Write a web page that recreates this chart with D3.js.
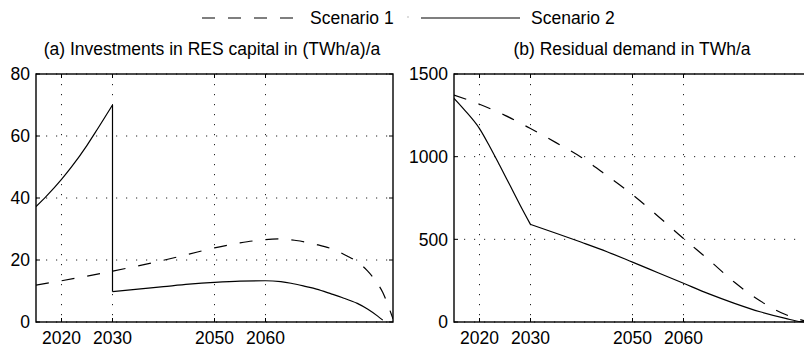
<!DOCTYPE html>
<html>
<head>
<meta charset="utf-8">
<script src="https://cdn.jsdelivr.net/npm/d3@7"></script>
<style>
  body { margin: 0; background: #fff; }
  svg { display: block; }
  text { font-family: "Liberation Sans", Arial, sans-serif; fill: #000; }
</style>
</head>
<body>
<svg id="chart" width="804" height="350"></svg>
<script>
// ---- data ----
const seriesNames = ["Scenario 1", "Scenario 2"];
const titles = ["(a) Investments in RES capital in (TWh/a)/a", "(b) Residual demand in TWh/a"];
const xTicks = [2020, 2030, 2050, 2060];
const yTicksA = [0, 20, 40, 60, 80];
const yTicksB = [0, 500, 1000, 1500];

// (a) investments, scenario 1 (dashed)
const invS1Years  = [2015, 2020, 2025, 2030, 2035, 2040, 2045, 2050, 2055, 2060, 2063, 2066, 2070, 2073, 2076, 2078, 2080, 2082, 2083, 2084, 2085];
const invS1Values = [11.9, 13.3, 14.8, 16.4, 18.1, 19.9, 21.9, 23.9, 25.5, 26.6, 26.8, 26.3, 25.0, 23.6, 21.3, 19.4, 16.5, 12.3, 9.5, 5.5, 1.0];
// (a) investments, scenario 2 (solid)
const invS2Years  = [2015, 2017, 2020, 2022, 2025, 2027, 2030, 2030, 2035, 2040, 2045, 2050, 2055, 2060, 2063, 2065, 2068, 2070, 2073, 2075, 2078, 2080, 2082, 2083];
const invS2Values = [37.2, 40.5, 46.0, 50.1, 57.0, 62.1, 70.0, 9.8, 10.6, 11.4, 12.2, 12.8, 13.2, 13.3, 13.0, 12.5, 11.4, 10.6, 9.0, 7.9, 6.0, 4.2, 1.9, 0.6];
// (b) residual demand, scenario 1 (dashed)
const resS1Years  = [2015, 2020, 2025, 2030, 2035, 2040, 2045, 2050, 2055, 2060, 2065, 2070, 2075, 2080, 2082, 2085];
const resS1Values = [1373, 1317, 1250, 1170, 1085, 995, 885, 770, 640, 505, 375, 240, 128, 45, 22, 0];
// (b) residual demand, scenario 2 (solid)
const resS2Years  = [2015, 2017, 2020, 2022, 2024, 2026, 2028, 2030, 2035, 2040, 2045, 2050, 2055, 2060, 2065, 2070, 2075, 2080, 2083, 2085];
const resS2Values = [1353, 1285, 1170, 1062, 945, 825, 705, 590, 537, 482, 425, 362, 298, 234, 170, 113, 62, 22, 2, 0];

// ---- layout ----
const svg = d3.select("#chart");
const FS = 17.5;
const plotTop = 74, plotBottom = 322;
const panels = [
  { x0: 36, x1: 393, yMax: 80, yTicks: yTicksA, title: titles[0], titleX: 212,
    s1: [invS1Years, invS1Values], s2: [invS2Years, invS2Values] },
  { x0: 454, x1: 811, yMax: 1500, yTicks: yTicksB, title: titles[1], titleX: 632,
    s1: [resS1Years, resS1Values], s2: [resS2Years, resS2Values] }
];

const DASH = "13,13";

panels.forEach((p, i) => {
  const x = d3.scaleLinear().domain([2015, 2085]).range([p.x0, p.x1]);
  const y = d3.scaleLinear().domain([0, p.yMax]).range([plotBottom, plotTop]);
  const g = svg.append("g");

  const clipId = "clip" + i;
  svg.append("clipPath").attr("id", clipId)
    .append("rect").attr("x", p.x0).attr("y", plotTop - 1).attr("width", p.x1 - p.x0).attr("height", plotBottom - plotTop + 2);

  // grid
  g.selectAll(".vg").data(xTicks).join("line")
    .attr("x1", d => x(d)).attr("x2", d => x(d)).attr("y1", plotTop).attr("y2", plotBottom)
    .attr("stroke", "#222").attr("stroke-width", 1).attr("stroke-dasharray", "1.2,8.8");
  g.selectAll(".hg").data(p.yTicks).join("line")
    .attr("x1", p.x0).attr("x2", p.x1).attr("y1", d => y(d)).attr("y2", d => y(d))
    .attr("stroke", "#222").attr("stroke-width", 1).attr("stroke-dasharray", "1.2,8.8");

  // inner tick marks
  const tl = 4;
  xTicks.forEach(t => {
    g.append("line").attr("x1", x(t)).attr("x2", x(t)).attr("y1", plotBottom).attr("y2", plotBottom - tl).attr("stroke", "#000");
    g.append("line").attr("x1", x(t)).attr("x2", x(t)).attr("y1", plotTop).attr("y2", plotTop + tl).attr("stroke", "#000");
  });
  p.yTicks.forEach(t => {
    g.append("line").attr("x1", p.x0).attr("x2", p.x0 + tl).attr("y1", y(t)).attr("y2", y(t)).attr("stroke", "#000");
    g.append("line").attr("x1", p.x1).attr("x2", p.x1 - tl).attr("y1", y(t)).attr("y2", y(t)).attr("stroke", "#000");
  });

  // lines
  const line = d3.line().x(d => x(d[0])).y(d => y(d[1])).curve(d3.curveMonotoneX);
  const lineLin = d3.line().x(d => x(d[0])).y(d => y(d[1]));
  const s1 = d3.zip(p.s1[0], p.s1[1]);
  const s2 = d3.zip(p.s2[0], p.s2[1]);
  const lg = g.append("g").attr("clip-path", `url(#${clipId})`);
  lg.append("path").attr("d", line(s1)).attr("fill", "none").attr("stroke", "#000")
    .attr("stroke-width", 1.2).attr("stroke-dasharray", DASH);
  if (i === 0) {
    const k = p.s2[0].indexOf(2030);
    const a = s2.slice(0, k + 1), b = s2.slice(k + 1);
    lg.append("path").attr("d", line(a)).attr("fill", "none").attr("stroke", "#000").attr("stroke-width", 1.2);
    lg.append("path").attr("d", lineLin([a[a.length - 1], b[0]])).attr("fill", "none").attr("stroke", "#000").attr("stroke-width", 1.2);
    lg.append("path").attr("d", line(b)).attr("fill", "none").attr("stroke", "#000").attr("stroke-width", 1.2);
  } else {
    const k = p.s2[0].indexOf(2030);
    lg.append("path").attr("d", line(s2.slice(0, k + 1))).attr("fill", "none").attr("stroke", "#000").attr("stroke-width", 1.2);
    lg.append("path").attr("d", line(s2.slice(k))).attr("fill", "none").attr("stroke", "#000").attr("stroke-width", 1.2);
  }

  // frame
  g.append("rect").attr("x", p.x0).attr("y", plotTop).attr("width", p.x1 - p.x0).attr("height", plotBottom - plotTop)
    .attr("fill", "none").attr("stroke", "#000").attr("stroke-width", 1.4);

  // tick labels
  g.selectAll(".xl").data(xTicks).join("text")
    .attr("x", d => x(d)).attr("y", 344).attr("text-anchor", "middle")
    .attr("font-size", FS).text(d => d);
  g.selectAll(".yl").data(p.yTicks).join("text")
    .attr("x", p.x0 - 6).attr("y", d => y(d)).attr("dy", "0.36em").attr("text-anchor", "end")
    .attr("font-size", FS).text(d => d);

  // title
  g.append("text").attr("x", p.titleX).attr("y", 55).attr("text-anchor", "middle")
    .attr("font-size", FS).text(p.title);
});

// legend
const leg = svg.append("g");
leg.append("line").attr("x1", 202).attr("x2", 295).attr("y1", 18).attr("y2", 18)
  .attr("stroke", "#000").attr("stroke-width", 1.2).attr("stroke-dasharray", DASH);
leg.append("text").attr("x", 310).attr("y", 24).attr("font-size", FS).text(seriesNames[0]);
leg.append("rect").attr("x", 407.5).attr("y", 16).attr("width", 1).attr("height", 2).attr("fill", "#bbb");
leg.append("line").attr("x1", 421).attr("x2", 520).attr("y1", 18).attr("y2", 18)
  .attr("stroke", "#000").attr("stroke-width", 1.2);
leg.append("text").attr("x", 531).attr("y", 24).attr("font-size", FS).text(seriesNames[1]);
</script>
</body>
</html>
